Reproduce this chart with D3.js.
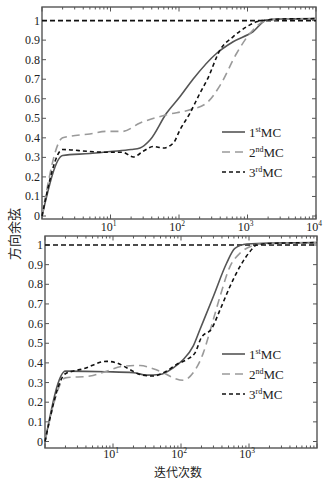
<!DOCTYPE html>
<html><head><meta charset="utf-8">
<script src="https://cdn.jsdelivr.net/npm/d3@7"></script>
<style>
html,body{margin:0;padding:0;background:#fff;}
svg{display:block;}
text{font-family:"Liberation Serif","DejaVu Serif",serif;fill:#222;}
.cjk{font-family:"Noto Sans CJK SC",sans-serif;}
</style></head>
<body>
<svg id="chart" width="331" height="480"></svg>
<script>
// ---- data ----
const seriesNames = ["1", "2", "3"];
const seriesSup = ["st", "nd", "rd"];
const yTicks = [0, 0.1, 0.2, 0.3, 0.4, 0.5, 0.6, 0.7, 0.8, 0.9, 1];
const yTickLabels = ["0", "0.1", "0.2", "0.3", "0.4", "0.5", "0.6", "0.7", "0.8", "0.9", "1"];
const topXExps = [1, 2, 3, 4];
const botXExps = [1, 2, 3];
const refLine = [[1, 1], [10000, 1]];

const topMC1 = [[1,0],[2,0.31],[5,0.32],[10,0.33],[20,0.34],[27,0.348],[38,0.39],[66,0.527],[103,0.61],[160,0.70],[355,0.833],[617,0.892],[1200,0.943],[1900,1.003],[3000,1.008],[10000,1.01]];
const topMC2 = [[1,0],[2,0.40],[5,0.42],[8.8,0.433],[15,0.433],[27,0.476],[66,0.518],[145,0.544],[253,0.578],[400,0.67],[695,0.833],[1090,0.935],[1700,0.994],[2500,1.005],[10000,1.01]];
const topMC3 = [[1,0],[2,0.34],[5,0.33],[8.8,0.326],[15,0.326],[21.6,0.302],[30,0.331],[42,0.356],[59,0.348],[83,0.374],[103,0.44],[145,0.527],[203,0.63],[260,0.70],[398,0.85],[620,0.918],[975,0.969],[1350,0.994],[1900,1.003],[3000,1.008],[10000,1.01]];

const botMC1 = [[1,0],[2,0.358],[8,0.355],[20,0.35],[31,0.338],[49,0.341],[77,0.375],[108,0.417],[151,0.485],[190,0.57],[299,0.738],[468,0.907],[620,0.983],[930,1.005],[2000,1.01],[10000,1.012]];
const botMC2 = [[1,0],[2,0.324],[4.6,0.333],[8,0.358],[14,0.383],[25,0.387],[39,0.37],[55,0.35],[77,0.324],[108,0.312],[151,0.35],[213,0.451],[266,0.56],[375,0.738],[525,0.89],[735,0.958],[1100,0.995],[1500,1.005],[10000,1.012]];
const botMC3 = [[1,0],[2,0.345],[3.7,0.37],[8,0.408],[11.3,0.40],[17.8,0.366],[25,0.341],[39,0.333],[61,0.358],[86,0.392],[121,0.417],[160,0.45],[200,0.53],[282,0.574],[375,0.67],[525,0.789],[735,0.89],[1030,0.966],[1290,1.0],[2000,1.008],[10000,1.012]];

// ---- styles ----
const styles = [
  {stroke:"#555", dash:null, width:1.6},
  {stroke:"#9a9a9a", dash:"8,5", width:1.6},
  {stroke:"#111", dash:"4,3", width:1.6}
];

const svg = d3.select("#chart");

const panels = [
  {data:[topMC1, topMC2, topMC3], x0:42, x1:316, yTop:7, yBot:219, y0px:216, y1px:20.6, exps:topXExps, labelY:231, legendY:132},
  {data:[botMC1, botMC2, botMC3], x0:45, x1:317, yTop:236, yBot:448, y0px:441.5, y1px:245, exps:botXExps, labelY:458, legendY:354}
];

panels.forEach(p => {
  const x = d3.scaleLog().domain([1, 10000]).range([p.x0, p.x1]);
  const y = d3.scaleLinear().domain([0, 1]).range([p.y0px, p.y1px]);
  const g = svg.append("g");

  // frame
  g.append("rect").attr("x", p.x0).attr("y", p.yTop)
    .attr("width", p.x1 - p.x0).attr("height", p.yBot - p.yTop)
    .attr("fill", "none").attr("stroke", "#555").attr("stroke-width", 1.4);

  // x ticks (log) bottom & top, inward
  const xt = x.ticks();
  xt.forEach(v => {
    const major = Math.abs(Math.log10(v) - Math.round(Math.log10(v))) < 1e-9;
    const len = major ? 4.5 : 2.5;
    const px = x(v);
    g.append("line").attr("x1", px).attr("x2", px).attr("y1", p.yBot).attr("y2", p.yBot - len).attr("stroke", "#555").attr("stroke-width", 1);
    g.append("line").attr("x1", px).attr("x2", px).attr("y1", p.yTop).attr("y2", p.yTop + len).attr("stroke", "#555").attr("stroke-width", 1);
  });
  // x labels
  p.exps.forEach(e => {
    const t = g.append("text").attr("x", x(Math.pow(10, e)) - 2).attr("y", p.labelY)
      .attr("text-anchor", "middle").attr("font-size", 12);
    t.append("tspan").text("10");
    t.append("tspan").attr("dy", -5).attr("font-size", 7.5).text(String(e));
  });

  // y ticks left & right, inward
  yTicks.forEach((v, i) => {
    const py = y(v);
    g.append("line").attr("x1", p.x0).attr("x2", p.x0 + 4).attr("y1", py).attr("y2", py).attr("stroke", "#555");
    g.append("line").attr("x1", p.x1).attr("x2", p.x1 - 4).attr("y1", py).attr("y2", py).attr("stroke", "#555");
    g.append("text").attr("x", p.x0 - 2).attr("y", py + 4).attr("text-anchor", "end")
      .attr("font-size", 12).text(yTickLabels[i]);
  });

  const line = d3.line().x(d => x(d[0])).y(d => y(d[1])).curve(d3.curveMonotoneX);

  // reference line at 1
  g.append("path").datum(refLine).attr("d", d3.line().x(d => x(d[0])).y(d => y(d[1])))
    .attr("fill", "none").attr("stroke", "#111").attr("stroke-width", 1.6).attr("stroke-dasharray", "5,3");

  p.data.forEach((s, i) => {
    g.append("path").datum(s).attr("d", line)
      .attr("fill", "none").attr("stroke", styles[i].stroke)
      .attr("stroke-width", styles[i].width)
      .attr("stroke-dasharray", styles[i].dash);
  });

  // legend
  seriesNames.forEach((n, i) => {
    const ly = p.legendY + i * 20;
    g.append("line").attr("x1", 222).attr("x2", 245).attr("y1", ly).attr("y2", ly)
      .attr("stroke", styles[i].stroke).attr("stroke-width", styles[i].width)
      .attr("stroke-dasharray", styles[i].dash);
    const t = g.append("text").attr("x", 249).attr("y", ly + 4.5).attr("font-size", 13);
    t.append("tspan").text(n);
    t.append("tspan").attr("dy", -5).attr("font-size", 8).text(seriesSup[i]);
    t.append("tspan").attr("dy", 5).text("MC");
  });
});

// axis titles
svg.append("text").attr("class", "cjk").attr("transform", "translate(19,234) rotate(-90)")
  .attr("text-anchor", "middle").attr("font-size", 13).text("方向余弦");
svg.append("text").attr("class", "cjk").attr("x", 178).attr("y", 476.5)
  .attr("text-anchor", "middle").attr("font-size", 12).text("迭代次数");
</script>
</body></html>
